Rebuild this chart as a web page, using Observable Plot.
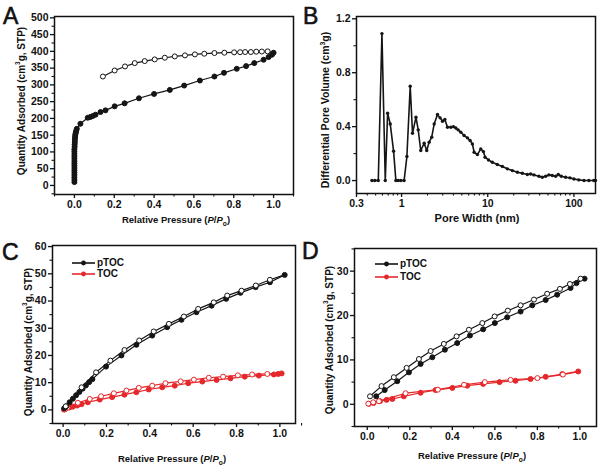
<!DOCTYPE html>
<html><head><meta charset="utf-8">
<script src="https://cdn.jsdelivr.net/npm/d3@7"></script>
<script src="https://cdn.jsdelivr.net/npm/@observablehq/plot@0.6"></script>
<style>
html,body{margin:0;padding:0;background:#fff;}
#wrap{position:relative;width:600px;height:465px;overflow:hidden;font-family:'Liberation Sans',Arial,sans-serif;color:#111;}
.pn{position:absolute;}
.ylbl{position:absolute;font-weight:bold;white-space:nowrap;line-height:1;transform:translate(-50%,-50%) rotate(-90deg);}
.xlbl{position:absolute;font-weight:bold;white-space:nowrap;line-height:1;transform:translate(-50%,-50%);}
.letter{position:absolute;font-size:23px;font-weight:normal;line-height:1;-webkit-text-stroke:0.6px #111;}
.leg{position:absolute;font-size:10px;font-weight:bold;display:flex;align-items:center;line-height:1;}
sub{font-size:0.7em;}
</style>
</head><body>
<div id="wrap"></div>
<script>
// ---------- Panel A: N2 isotherm ----------
const aAdsX = [0,0,0,0,0,0,0,0,0,0,0,0,0,0,0,0.001,0.001,0.002,0.002,0.003,0.004,0.005,0.007,0.009,0.012,0.03,0.067,0.079,0.092,0.106,0.131,0.156,0.202,0.252,0.324,0.400,0.479,0.551,0.630,0.703,0.751,0.815,0.862,0.903,0.950,0.975,0.992,1.0];
const aAdsY = [10,17,24,31,38,45,52,59,66,73,80,87,94,101,108,115,122,129,136,142,148,153,158,163,169,184,202,204,207,211,219,224,236,245,260,273,285,298,313,325,336,348,356,365,375,383,390,396];
const aDesX = [1.0,0.970,0.941,0.913,0.886,0.857,0.832,0.802,0.753,0.703,0.652,0.605,0.555,0.504,0.454,0.403,0.353,0.303,0.254,0.202,0.143];
const aDesY = [396,400,399.5,399,398,398,397.5,397,396,395,393,391,388,385,381,376,371,365,355,343,325];

// ---------- Panel B: pore size distribution ----------
const bX = [0.453,0.49,0.537,0.592,0.647,0.689,0.739,0.808,0.859,0.914,0.98,1.07,1.153,1.26,1.34,1.47,1.56,1.67,1.83,1.96,2.09,2.24,2.39,2.61,2.80,2.99,3.18,3.41,3.73,4.0,4.26,4.53,4.86,5.32,5.81,6.24,6.64,6.95,7.59,8.3,8.91,9.31,10.2,11.3,12.9,14.8,16.9,19.3,22.1,25.2,28.8,31.5,34.4,39.3,43,47,51.3,56.1,61.4,65.9,71.3,80,89.9,100,114,131,149,170,178];
const bY = [0,0,0,1.09,0,0.50,0.42,0.218,0,0,0,0,0.178,0.70,0.351,0.47,0.376,0.223,0.277,0.223,0.285,0.322,0.42,0.49,0.465,0.44,0.453,0.396,0.396,0.40,0.39,0.376,0.359,0.334,0.317,0.297,0.272,0.21,0.193,0.235,0.215,0.173,0.153,0.136,0.119,0.104,0.087,0.074,0.062,0.054,0.045,0.049,0.042,0.032,0.025,0.032,0.042,0.037,0.032,0.045,0.032,0.025,0.02,0.012,0.005,0,0,0,0];

// ---------- Panel C: CO2 isotherms ----------
const cPAdsX = [0.005,0.014,0.03,0.045,0.06,0.075,0.09,0.105,0.12,0.135,0.198,0.269,0.338,0.411,0.48,0.546,0.615,0.685,0.752,0.818,0.888,0.954,1.022];
const cPAdsY = [0.6,1.3,2.8,4.1,5.4,6.6,7.8,9,10.2,11.3,15.9,20,23.9,27.3,30.4,33.1,35.9,38.3,40.8,43,45.1,46.9,49.6];
const cPDesX = [1.022,0.954,0.889,0.823,0.757,0.695,0.623,0.557,0.488,0.418,0.351,0.283,0.218,0.152,0.085,0.012];
const cPDesY = [49.6,47.8,45.7,43.8,42,39.5,37.1,34.3,31.6,28.8,25.5,22,18.1,13.8,8.3,1.3];
const cTAdsX = [0.004,0.011,0.03,0.045,0.065,0.085,0.114,0.169,0.226,0.283,0.338,0.395,0.457,0.515,0.577,0.642,0.708,0.772,0.838,0.903,0.972,0.992,1.008];
const cTAdsY = [0.1,0.4,0.9,1.2,1.6,2.1,2.8,3.8,4.7,5.6,6.5,7.5,8.3,8.9,9.8,10.4,11,11.6,12.2,12.6,13,13.2,13.4];
const cTDesX = [1.008,0.942,0.872,0.806,0.738,0.672,0.603,0.542,0.472,0.411,0.349,0.292,0.234,0.175,0.123,0.068,0.02,0.008];
const cTDesY = [13.5,13.2,13,12.7,12.2,11.8,11.1,10.5,9.8,8.9,8.1,7.1,6.1,5,4,2.6,0.8,0.2];

// ---------- Panel D: CH4 isotherms ----------
const dPAdsX = [0.042,0.082,0.141,0.196,0.251,0.306,0.365,0.423,0.483,0.545,0.6,0.658,0.721,0.776,0.839,0.893,0.956,0.984,1.022];
const dPAdsY = [1.8,3.2,5.2,7.2,9.1,10.6,12.3,13.8,15.5,16.9,18.3,19.6,20.9,22.3,23.5,24.7,26.2,27.3,28.3];
const dPDesX = [1.022,1.003,0.953,0.906,0.846,0.784,0.721,0.661,0.599,0.541,0.478,0.42,0.36,0.298,0.243,0.185,0.125,0.067,0.013];
const dPDesY = [28.3,28.3,27.1,26,24.9,23.6,22.3,21.1,19.8,18.3,16.8,15.3,13.6,12,10.2,8.2,6.1,4.1,1.8];
const dTAdsX = [0.008,0.03,0.06,0.091,0.118,0.172,0.251,0.321,0.4,0.47,0.545,0.622,0.697,0.768,0.839,0.917,0.992];
const dTAdsY = [0.1,0.3,0.7,1,1.2,1.8,2.6,3.2,3.7,4.2,4.6,5,5.3,5.7,6.2,6.8,7.4];
const dTDesX = [1.0,0.92,0.8,0.674,0.553,0.455,0.332,0.18,0.055,0.028,0.005];
const dTDesY = [7.4,6.7,5.9,5.5,5,4.4,3.3,2.5,0.7,0.45,0.15];

// ---------- tick values ----------
const pTicks = [0,0.2,0.4,0.6,0.8,1.0];
const pMinor = [-0.1,0.1,0.3,0.5,0.7,0.9,1.1];
const aYTicks = [0,50,100,150,200,250,300,350,400,450,500];
const aYMinor = [-25,25,75,125,175,225,275,325,375,425,475];
const bXTicks = [0.3,1,10,100];
const bXMinor = [0.4,0.5,0.6,0.7,0.8,0.9,2,3,4,5,6,7,8,9,20,30,40,50,60,70,80,90];
const bYTicks = [0,0.4,0.8,1.2];
const bYMinor = [0.2,0.6,1.0];
const cYTicks = [0,10,20,30,40,50,60];
const cYMinor = [-5,5,15,25,35,45,55];
const dYTicks = [0,10,20,30];
const dYMinor = [-5,5,15,25,35];

const BLACK = "#151515", RED = "#e5282c";
const R = 2.5;
const pts = (xs, ys) => xs.map((x, i) => ({x, y: ys[i]}));

function series(xs, ys, color, open, r, skipFirst) {
  const d = pts(xs, ys);
  return [
    Plot.line(d, {x: "x", y: "y", stroke: color, strokeWidth: 1.2}),
    Plot.dot(skipFirst ? d.slice(1) : d, {x: "x", y: "y", r, fill: open ? "#fff" : color, stroke: color, strokeWidth: 1})
  ];
}

function panel(o) {
  return Plot.plot({
    width: o.width, height: o.height,
    marginLeft: o.ml, marginRight: o.mr, marginTop: o.mt, marginBottom: o.mb,
    x: {domain: o.xDomain, type: o.xType || "linear"},
    y: {domain: o.yDomain},
    style: {fontFamily: "'Liberation Sans', Arial, sans-serif", fontWeight: "bold", fontSize: "10.5px", color: "#111", background: "transparent", overflow: "visible"},
    marks: [
      ...o.marks,
      Plot.frame({stroke: "#111", strokeWidth: 1.5}),
      Plot.axisX({ticks: o.xTicks, tickSize: 4, tickPadding: 2, tickFormat: o.xFmt, label: null, strokeWidth: 1.3}),
      Plot.axisX({ticks: o.xMinor, tickSize: 2.5, tickFormat: () => "", label: null, strokeWidth: 1.1}),
      Plot.axisY({ticks: o.yTicks, tickSize: 4, tickPadding: 2, tickFormat: o.yFmt, label: null, strokeWidth: 1.3}),
      Plot.axisY({ticks: o.yMinor, tickSize: 2.5, tickFormat: () => "", label: null, strokeWidth: 1.1})
    ]
  });
}

const wrap = document.getElementById("wrap");
function place(el, left, top) {
  const d = document.createElement("div");
  d.className = "pn"; d.style.left = left + "px"; d.style.top = top + "px";
  d.appendChild(el); wrap.appendChild(d);
}
const f1 = d3.format(".1f");

place(panel({width: 300, height: 230, ml: 54, mr: 7, mt: 16, mb: 36,
  xDomain: [-0.1, 1.1], yDomain: [-27, 504],
  xTicks: pTicks, xMinor: pMinor, xFmt: f1, yTicks: aYTicks, yMinor: aYMinor, yFmt: d3.format("d"),
  marks: [...series(aDesX, aDesY, BLACK, true, R, true), ...series(aAdsX, aAdsY, BLACK, false, R)]
}), 0, 0);

place(panel({width: 300, height: 230, ml: 56, mr: 5, mt: 16, mb: 37,
  xType: "log", xDomain: [0.3, 178], yDomain: [-0.096, 1.217],
  xTicks: bXTicks, xMinor: bXMinor, xFmt: d => String(d), yTicks: bYTicks, yMinor: bYMinor, yFmt: f1,
  marks: [
    Plot.line(pts(bX, bY), {x: "x", y: "y", stroke: BLACK, strokeWidth: 1.6}),
    Plot.dot(pts(bX, bY), {x: "x", y: "y", r: 1.7, fill: BLACK})
  ]
}), 300, 0);

place(panel({width: 300, height: 235, ml: 52, mr: 5, mt: 15, mb: 42,
  xDomain: [-0.049, 1.072], yDomain: [-5, 60.4],
  xTicks: pTicks, xMinor: pMinor.slice(1, 7), xFmt: f1, yTicks: cYTicks, yMinor: cYMinor, yFmt: d3.format("d"),
  marks: [
    ...series(cTAdsX, cTAdsY, RED, false, R), ...series(cTDesX, cTDesY, RED, true, R, true),
    ...series(cPAdsX, cPAdsY, BLACK, false, R), ...series(cPDesX, cPDesY, BLACK, true, R, true)
  ]
}), 0, 230);

place(panel({width: 300, height: 235, ml: 54, mr: 4, mt: 18, mb: 39,
  xDomain: [-0.06, 1.078], yDomain: [-5, 35.1],
  xTicks: pTicks, xMinor: pMinor.slice(1, 7), xFmt: f1, yTicks: dYTicks, yMinor: dYMinor, yFmt: d3.format("d"),
  marks: [
    ...series(dTAdsX, dTAdsY, RED, false, R), ...series(dTDesX, dTDesY, RED, true, R, true),
    ...series(dPAdsX, dPAdsY, BLACK, false, R), ...series(dPDesX, dPDesY, BLACK, true, R, true)
  ]
}), 300, 230);

// ---------- text overlays ----------
function addHTML(cls, html, x, y, extra) {
  const d = document.createElement("div");
  d.className = cls; d.innerHTML = html;
  d.style.left = x + "px"; d.style.top = y + "px";
  if (extra) Object.assign(d.style, extra);
  wrap.appendChild(d);
}
const qa = "Quantity Adsorbed (cm<sup style='font-size:0.65em'>3</sup>g, STP)";
const rp = "Relative Pressure (<i>P</i>/<i>P</i><sub>o</sub>)";
addHTML("letter", "A", 3, 5);
addHTML("letter", "B", 303, 5);
addHTML("letter", "C", 2, 241);
addHTML("letter", "D", 302, 240);
addHTML("ylbl", qa, 21, 101, {fontSize: "10px"});
addHTML("ylbl", "Differential Pore Volume (cm<sup style='font-size:0.65em'>3</sup>g)", 325, 110, {fontSize: "10.5px"});
addHTML("ylbl", qa, 28, 342, {fontSize: "10px"});
addHTML("ylbl", qa, 329, 340, {fontSize: "10px"});
addHTML("xlbl", rp, 176, 221, {fontSize: "9.5px"});
addHTML("xlbl", "Pore Width (nm)", 477, 218, {fontSize: "11px"});
addHTML("xlbl", rp, 172, 460, {fontSize: "9.5px"});
addHTML("xlbl", rp, 472, 457, {fontSize: "9.5px"});

function legendItem(x, y, color, label) {
  const sw = `<svg width="23" height="8" style="margin-right:2px"><line x1="0" y1="4" x2="23" y2="4" stroke="${color}" stroke-width="1.6"/><circle cx="11.5" cy="4" r="2.4" fill="${color}"/></svg>`;
  addHTML("leg", sw + label, x, y - 5);
}
legendItem(72, 263, BLACK, "pTOC");
legendItem(72, 274, RED, "TOC");
legendItem(375, 264, BLACK, "pTOC");
legendItem(375, 277, RED, "TOC");
</script>
</body></html>
